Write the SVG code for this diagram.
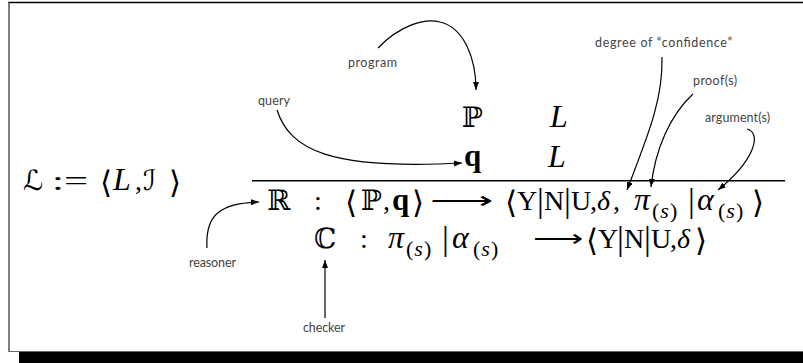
<svg xmlns="http://www.w3.org/2000/svg" width="803" height="363" viewBox="0 0 803 363">
<defs>
<style>
.m{font-family:"Liberation Serif",serif;font-size:28px;fill:#000}
.i{font-style:italic}
.L{font-size:32px}
.gr{font-size:32px}
.ds{font-family:"DejaVu Serif","DejaVu Sans",serif}
.ang{font-family:"DejaVu Sans",sans-serif;font-weight:200;font-size:31px}
.arr{font-family:"DejaVu Sans",sans-serif;font-weight:200;font-size:26px}
.bar{font-size:34px}
.sub{font-size:22px;letter-spacing:1px}
.bq{font-weight:bold;font-size:31px}
.lbl{font-family:Lato,"Open Sans",sans-serif;font-size:12.5px;fill:#444}
.c{fill:none;stroke:#000;stroke-width:1.2}
</style>
<marker id="ah" markerUnits="userSpaceOnUse" markerWidth="9" markerHeight="7" refX="8" refY="3" orient="auto">
<path d="M0,0 L8,3 L0,6 z" fill="#000"/>
</marker>
</defs>
<rect x="0" y="0" width="803" height="363" fill="#fff"/>
<g id="frame">
<line x1="8" y1="2.5" x2="803" y2="2.5" stroke="#000" stroke-width="1.5"/>
<line x1="9" y1="2" x2="9" y2="352" stroke="#555" stroke-width="1.5"/>
<line x1="9" y1="351.5" x2="803" y2="351.5" stroke="#666" stroke-width="1.2"/>
<rect x="19" y="352" width="784" height="11" fill="#000"/>
</g>
<g id="title">
<text class="m ds" x="23" y="190">ℒ</text>
<text class="m" x="52" y="190" textLength="36" lengthAdjust="spacingAndGlyphs">:=</text>
<text class="m ang" x="100" y="193">⟨</text>
<text class="m i L" x="113" y="190">L</text>
<text class="m" x="135" y="190">,</text>
<text class="m ds" x="143" y="190">ℐ</text>
<text class="m ang" x="169" y="193">⟩</text>
</g>
<g id="premises">
<text class="m ds" x="462" y="127">ℙ</text>
<text class="m i L" x="550" y="127">L</text>
<text class="m bq" x="464" y="166">q</text>
<text class="m i L" x="548" y="167">L</text>
<line x1="252" y1="180.7" x2="785" y2="180.7" stroke="#000" stroke-width="1.5"/>
</g>
<g id="reasoner-row">
<text class="m ds" x="267" y="210">ℝ</text>
<text class="m" x="314" y="210">:</text>
<text class="m ang" x="345" y="213">⟨</text>
<text class="m ds" x="361" y="210">ℙ</text>
<text class="m" x="383" y="210">,</text>
<text class="m bq" x="392" y="210">q</text>
<text class="m ang" x="412" y="213">⟩</text>
<text class="m arr" x="430" y="209" textLength="63" lengthAdjust="spacingAndGlyphs">⟶</text>
<text class="m ang" x="505" y="213">⟨</text>
<text class="m" x="517" y="210">Y</text>
<text class="m bar" x="537" y="212">|</text>
<text class="m" x="544" y="210">N</text>
<text class="m bar" x="564" y="212">|</text>
<text class="m" x="571" y="210">U</text>
<text class="m" x="590" y="210">,</text>
<text class="m i" x="597" y="210">δ</text>
<text class="m" x="613" y="210">,</text>
<text class="m i gr" x="634" y="210">π</text>
<text class="m sub" x="652" y="218">(<tspan class="i">s</tspan>)</text>
<text class="m bar" x="688" y="212">|</text>
<text class="m i gr" x="697" y="210">α</text>
<text class="m sub" x="718" y="218">(<tspan class="i">s</tspan>)</text>
<text class="m ang" x="752" y="213">⟩</text>
</g>
<g id="checker-row">
<text class="m ds" x="314" y="248">ℂ</text>
<text class="m" x="360" y="248">:</text>
<text class="m i gr" x="388" y="248">π</text>
<text class="m sub" x="406" y="256">(<tspan class="i">s</tspan>)</text>
<text class="m bar" x="442" y="250">|</text>
<text class="m i gr" x="452" y="248">α</text>
<text class="m sub" x="473" y="256">(<tspan class="i">s</tspan>)</text>
<text class="m arr" x="533" y="247" textLength="50" lengthAdjust="spacingAndGlyphs">⟶</text>
<text class="m ang" x="586" y="251">⟨</text>
<text class="m" x="598" y="248">Y</text>
<text class="m bar" x="617" y="250">|</text>
<text class="m" x="624" y="248">N</text>
<text class="m bar" x="644" y="250">|</text>
<text class="m" x="651" y="248">U</text>
<text class="m" x="670" y="248">,</text>
<text class="m i" x="677" y="248">δ</text>
<text class="m ang" x="695" y="251">⟩</text>
</g>
<g id="labels">
<text id="program" class="lbl" x="348" y="67" textLength="49">program</text>
<text id="query" class="lbl" x="258" y="105" textLength="32">query</text>
<text id="confidence" class="lbl" x="595" y="47" textLength="137">degree of “confidence”</text>
<text id="proofs" class="lbl" x="693" y="85" textLength="44">proof(s)</text>
<text id="arguments" class="lbl" x="705" y="122" textLength="65">argument(s)</text>
<text id="reasoner" class="lbl" x="189" y="267" textLength="47">reasoner</text>
<text id="checker" class="lbl" x="303" y="332" textLength="42">checker</text>
</g>
<g id="connectors">
<path class="c" marker-end="url(#ah)" d="M378,48 C400,25 425,18 440,22 C465,28 476,60 476,90"/>
<path class="c" marker-end="url(#ah)" d="M277,110 C290,150 330,170 462,163"/>
<path class="c" marker-end="url(#ah)" d="M662,57 C663,100 648,135 627,190"/>
<path class="c" marker-end="url(#ah)" d="M693,94 C670,115 655,150 651,187"/>
<path class="c" marker-end="url(#ah)" d="M747,129 C762,133 755,160 718,190"/>
<path class="c" marker-end="url(#ah)" d="M207,248 C205,215 220,203 259,202"/>
<path class="c" marker-end="url(#ah)" d="M325,318 L325,260"/>
</g>
</svg>
